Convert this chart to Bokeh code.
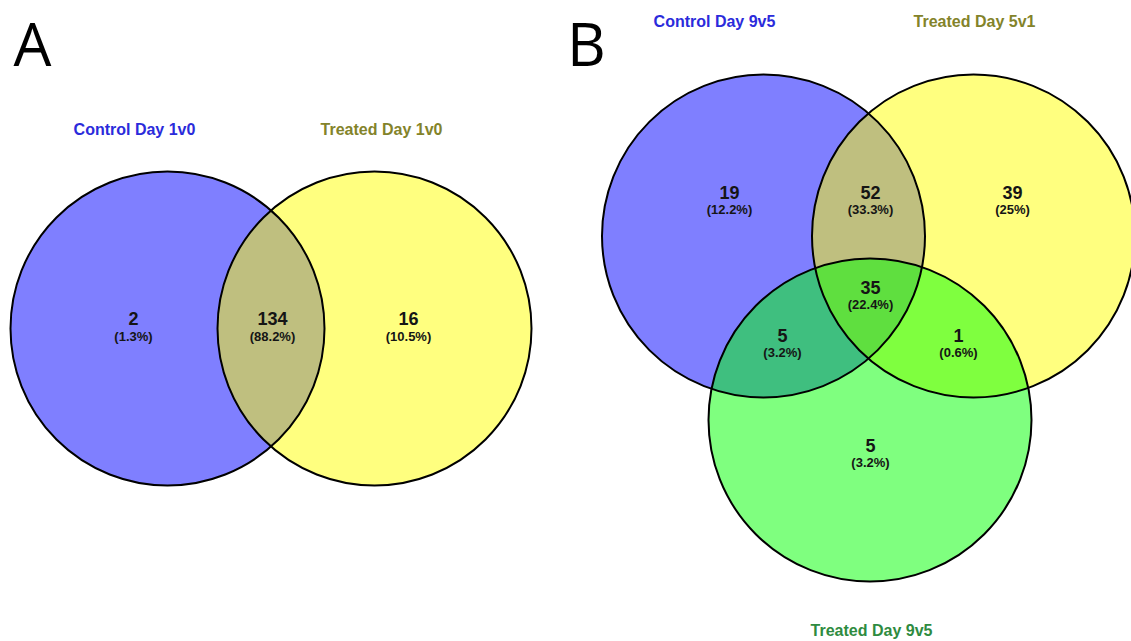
from bokeh.plotting import figure
from bokeh.models import Range1d
from bokeh.core.properties import value
from bokeh.embed import file_html
from bokeh.resources import INLINE

# ---------------- data ----------------
a_sets = ["Control Day 1v0", "Treated Day 1v0"]
a_counts = [2, 134, 16]                       # only ctrl, both, only treated
a_pcts = ["(1.3%)", "(88.2%)", "(10.5%)"]

b_sets = ["Control Day 9v5", "Treated Day 5v1", "Treated Day 9v5"]
# regions: C only, C&T51, T51 only, C&T95, all, T51&T95, T95 only
b_counts = [19, 52, 39, 5, 35, 1, 5]
b_pcts = ["(12.2%)", "(33.3%)", "(25%)", "(3.2%)", "(22.4%)", "(0.6%)", "(3.2%)"]

# ---------------- layout (picture pixel coordinates) ----------------
FONT = value("Liberation Sans")
set_fill = ["blue", "yellow", "lime"]
label_cols = ["#2b2bdb", "#83832a", "#2e8b40"]

a_circ_x = [167, 374]
a_circ_y = [328, 328]
a_r = 157
a_lab_x = [134, 381]
a_lab_y = [129, 129]
a_reg_x = [133, 272, 408]
a_reg_y = [318, 318, 318]

b_circ_x = [763, 973, 869.5]
b_circ_y = [235.5, 235.5, 419.5]
b_r = 161.5
b_lab_x = [714, 974, 871]
b_lab_y = [21, 21, 630]
b_reg_x = [729, 870, 1012, 782, 870, 958, 870]
b_reg_y = [192, 192, 192, 335, 287, 335, 445]

W, H = 1131, 641
p = figure(width=W, height=H, x_range=Range1d(0, W), y_range=Range1d(H, 0),
           output_backend="svg", toolbar_location=None, min_border=0)
p.axis.visible = False
p.grid.visible = False
p.outline_line_color = None
p.background_fill_color = "white"
p.border_fill_color = "white"

# panel letters
p.text(x=[32, 586], y=[42, 42], text=["A", "B"], text_font=value("Open Sans"),
       text_font_size="60px", text_color="black", text_align="center",
       text_baseline="middle")

# ---- panel A ----
for i in range(2):
    p.circle(x=[a_circ_x[i]], y=[a_circ_y[i]], radius=a_r, fill_color=set_fill[i],
             fill_alpha=0.5, line_color=None)
p.circle(x=a_circ_x, y=a_circ_y, radius=a_r, fill_color=None, line_color="black",
         line_width=2)
p.text(x=a_lab_x, y=a_lab_y, text=a_sets, text_font=FONT, text_font_style="bold",
       text_font_size="16px", text_color=label_cols[:2], text_align="center",
       text_baseline="middle")
p.text(x=a_reg_x, y=a_reg_y, text=[str(c) for c in a_counts], text_font=FONT,
       text_font_style="bold", text_font_size="18px", text_color="#151515",
       text_align="center", text_baseline="middle")
p.text(x=a_reg_x, y=[y + 18 for y in a_reg_y], text=a_pcts, text_font=FONT,
       text_font_style="bold", text_font_size="13px", text_color="#151515",
       text_align="center", text_baseline="middle")

# ---- panel B ----
for i in range(3):
    p.circle(x=[b_circ_x[i]], y=[b_circ_y[i]], radius=b_r, fill_color=set_fill[i],
             fill_alpha=0.5, line_color=None)
p.circle(x=b_circ_x, y=b_circ_y, radius=b_r, fill_color=None, line_color="black",
         line_width=2)
p.text(x=b_lab_x, y=b_lab_y, text=b_sets, text_font=FONT, text_font_style="bold",
       text_font_size="16px", text_color=label_cols, text_align="center",
       text_baseline="middle")
p.text(x=b_reg_x, y=b_reg_y, text=[str(c) for c in b_counts], text_font=FONT,
       text_font_style="bold", text_font_size="18px", text_color="#151515",
       text_align="center", text_baseline="middle")
p.text(x=b_reg_x, y=[y + 17 for y in b_reg_y], text=b_pcts, text_font=FONT,
       text_font_style="bold", text_font_size="13px", text_color="#151515",
       text_align="center", text_baseline="middle")

open("out.html", "w").write(file_html(p, INLINE))
